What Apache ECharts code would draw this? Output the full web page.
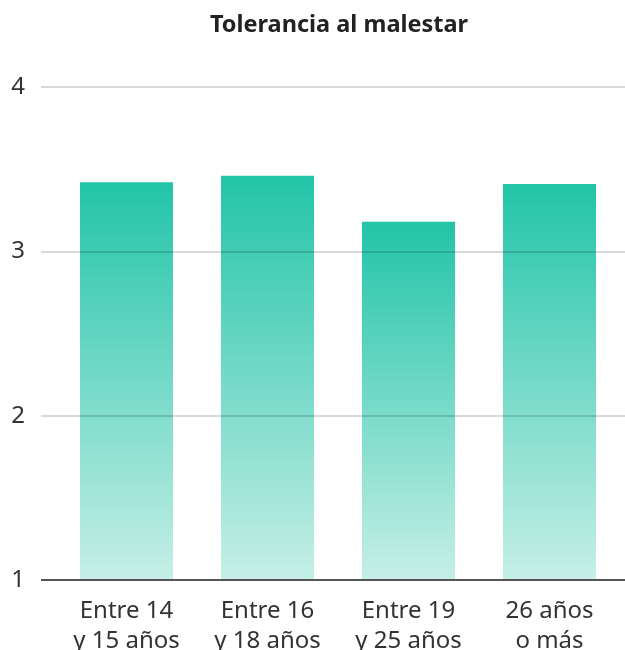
<!DOCTYPE html>
<html><head><meta charset="utf-8">
<script src="https://cdn.jsdelivr.net/npm/echarts@6/dist/echarts.min.js"></script>
<style>html,body{margin:0;padding:0;background:#fff}#c{width:625px;height:650px}</style>
</head><body><div id="c"></div>
<script>
const title = 'Tolerancia al malestar';
const categories = ['Entre 14\ny 15 años', 'Entre 16\ny 18 años', 'Entre 19\ny 25 años', '26 años\no más'];
const values = [3.42, 3.46, 3.18, 3.41];
const yTicks = [1, 2, 3, 4];

const font = 'Noto Sans';
const chart = echarts.init(document.getElementById('c'), null, {renderer: 'canvas'});
chart.setOption({
  animation: false,
  title: {text: title, left: 334, top: 8, textAlign: 'center',
    textStyle: {fontFamily: font, fontSize: 23.5, fontWeight: 'bold', color: '#222'}},
  grid: [
    {left: 41, right: 0, top: 87, bottom: 70, outerBoundsMode: 'none', containLabel: false},
    {left: 56, right: 5, top: 87, bottom: 70, outerBoundsMode: 'none', containLabel: false}
  ],
  xAxis: [
    {gridIndex: 0, type: 'category', data: categories, show: false},
    {gridIndex: 1, type: 'category', data: categories,
      axisLine: {show: false}, axisTick: {show: false},
      axisLabel: {fontFamily: font, fontSize: 24, color: '#333', lineHeight: 30, margin: 16}}
  ],
  yAxis: [
    {gridIndex: 0, type: 'value', min: yTicks[0], max: yTicks[yTicks.length - 1], interval: 1, z: 5,
      axisLine: {show: false}, axisTick: {show: false},
      axisLabel: {fontFamily: font, fontSize: 24, color: '#333', margin: 16},
      splitLine: {lineStyle: {color: 'rgba(0,0,0,0.2)', width: 1.5}}},
    {gridIndex: 1, type: 'value', min: yTicks[0], max: yTicks[yTicks.length - 1], interval: 1, show: false}
  ],
  series: [
    {type: 'bar', xAxisIndex: 0, yAxisIndex: 0, data: [], silent: true,
      markLine: {silent: true, symbol: 'none', label: {show: false},
        lineStyle: {color: '#555', width: 2, type: 'solid'}, data: [{yAxis: yTicks[0]}]}},
    {type: 'bar', xAxisIndex: 1, yAxisIndex: 1, data: values, barWidth: 93, z: 2,
      itemStyle: {color: new echarts.graphic.LinearGradient(0, 0, 0, 1, [
        {offset: 0, color: '#22c4a8'}, {offset: 1, color: '#c6efe7'}])}}
  ]
});
</script></body></html>
